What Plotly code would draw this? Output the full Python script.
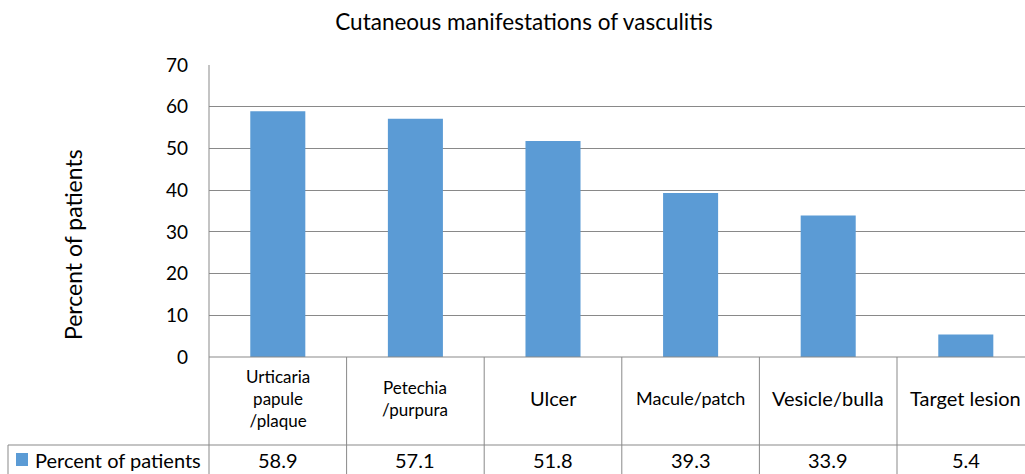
import plotly.graph_objects as go

categories = ["Urticaria<br>papule<br>/plaque", "Petechia<br>/purpura", "Ulcer",
              "Macule/patch", "Vesicle/bulla", "Target lesion"]
values = [58.9, 57.1, 51.8, 39.3, 33.9, 5.4]
value_labels = ["58.9", "57.1", "51.8", "39.3", "33.9", "5.4"]
series_name = "Percent of patients"
cat_font_sizes = [17, 17, 20, 18, 20, 20]

W, H = 1025, 474
L, R, T, B = 209, 0, 65, 117
PW, PH = W - L - R, H - T - B
BLUE = "#5B9BD5"
GRID = "#898989"
FONT = "Lato, Carlito, Calibri, sans-serif"

def py(px):  # pixel y (from top) -> paper y
    return (H - B - px) / PH

def px_(p):  # pixel x -> paper x
    return (p - L) / PW

fig = go.Figure()
xs = list(range(len(values)))
fig.add_trace(go.Bar(x=xs, y=values, marker=dict(color=BLUE, line=dict(width=0)),
                     width=0.4, name=series_name, showlegend=False, hoverinfo="skip"))

cat_w = 137.6
x_end = -0.5 + PW / cat_w

shapes = []
line = dict(color=GRID, width=1)
shapes.append(dict(type="line", xref="paper", yref="paper", x0=0, x1=1, y0=py(357), y1=py(357), line=line))
shapes.append(dict(type="line", xref="paper", yref="paper", x0=px_(8), x1=1, y0=py(445), y1=py(445), line=line))
shapes.append(dict(type="line", xref="paper", yref="paper", x0=0, x1=0, y0=1, y1=py(H + 2), line=line))
shapes.append(dict(type="line", xref="paper", yref="paper", x0=px_(8), x1=px_(8), y0=py(445), y1=py(H + 2), line=line))
for i in range(len(values) - 1):
    shapes.append(dict(type="line", xref="x", yref="paper", x0=i + 0.5, x1=i + 0.5,
                       y0=py(357), y1=py(H + 2), line=line))
shapes.append(dict(type="rect", xref="paper", yref="paper", x0=px_(16), x1=px_(28),
                   y0=py(466), y1=py(453), fillcolor=BLUE, line=dict(width=0)))

annotations = []
for i, (c, v, fs) in enumerate(zip(categories, value_labels, cat_font_sizes)):
    annotations.append(dict(x=i, xref="x", y=py(398), yref="paper", text=c, showarrow=False,
                            font=dict(size=fs, color="#000", family=FONT), xanchor="center", yanchor="middle"))
    annotations.append(dict(x=i, xref="x", y=py(460), yref="paper", text=v, showarrow=False,
                            font=dict(size=20, color="#000", family=FONT), xanchor="center", yanchor="middle"))
annotations.append(dict(x=px_(33), xref="paper", y=py(460), yref="paper", text=series_name,
                        showarrow=False, xanchor="left", yanchor="middle",
                        font=dict(size=20, color="#000", family=FONT)))
annotations.append(dict(x=px_(73), xref="paper", y=py(245), yref="paper", text="Percent of patients",
                        showarrow=False, textangle=-90, xanchor="center", yanchor="middle",
                        font=dict(size=23, color="#000", family=FONT)))

fig.update_layout(
    width=W, height=H,
    margin=dict(l=L, r=R, t=T, b=B, pad=0),
    paper_bgcolor="white", plot_bgcolor="white",
    title=dict(text="Cutaneous manifestations of vasculitis", x=524 / W, xref="container",
               xanchor="center", y=1 - 22 / H, yref="container", yanchor="middle",
               font=dict(size=22.5, color="#000", family=FONT)),
    xaxis=dict(range=[-0.5, x_end], showticklabels=False, showgrid=False, zeroline=False,
               ticks="", fixedrange=True),
    yaxis=dict(range=[0, 70], dtick=10, tick0=0, showgrid=True, gridcolor=GRID, gridwidth=1,
               zeroline=False, showline=False, ticks="", ticklabelstandoff=20,
               tickfont=dict(size=19, color="#000", family=FONT), fixedrange=True),
    shapes=shapes, annotations=annotations, bargap=0.6,
)

fig.write_html("out.html", config={"displayModeBar": False},
               post_script="document.body.style.margin='0';document.body.style.overflow='hidden';")
